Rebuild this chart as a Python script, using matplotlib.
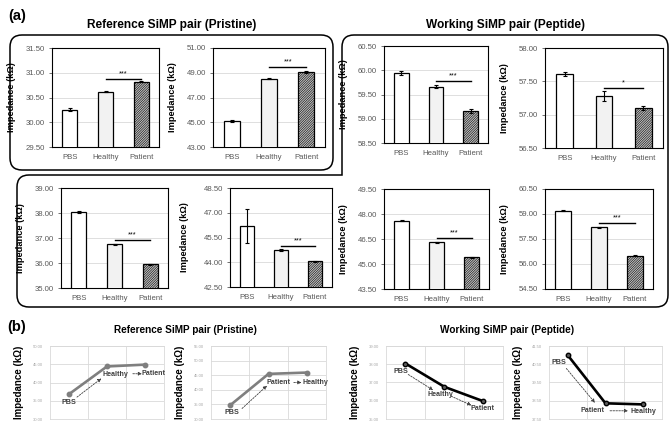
import matplotlib
matplotlib.use('Agg')
import matplotlib.pyplot as plt
from matplotlib.patches import FancyBboxPatch, PathPatch
from matplotlib.path import Path
import numpy as np

plt.rcParams['font.family'] = ['Liberation Sans', 'DejaVu Sans']
plt.rcParams['hatch.linewidth'] = 0.4

W, H = 670, 440

groups = ['PBS', 'Healthy', 'Patient']

# (a) bar charts: mean impedance (kOhm) and error
ref1_mean = [30.25, 30.62, 30.82]
ref1_err = [0.03, 0.01, 0.01]
ref2_mean = [45.10, 48.52, 49.08]
ref2_err = [0.08, 0.03, 0.06]
ref3_mean = [38.03, 36.74, 35.95]
ref3_err = [0.04, 0.03, 0.02]
ref4_mean = [46.20, 44.75, 44.05]
ref4_err = [1.05, 0.05, 0.03]
wrk1_mean = [59.94, 59.66, 59.16]
wrk1_err = [0.04, 0.03, 0.05]
wrk2_mean = [57.61, 57.28, 57.10]
wrk2_err = [0.03, 0.07, 0.03]
wrk3_mean = [47.60, 46.30, 45.40]
wrk3_err = [0.03, 0.04, 0.02]
wrk4_mean = [59.20, 58.20, 56.50]
wrk4_err = [0.04, 0.04, 0.04]

# significance bar between Healthy and Patient
sig_levels = [30.88, 49.45, 36.92, 45.00, 59.78, 57.40, 46.58, 58.48]
sig_marks = ['***', '***', '***', '***', '***', '*', '***', '***']

# (b) line charts
b1_cats = ['PBS', 'Healthy', 'Patient']
b1_vals = [36.8, 44.4, 44.9]
b2_cats = ['PBS', 'Patient', 'Healthy']
b2_vals = [34.7, 45.45, 45.9]
b3_cats = ['PBS', 'Healthy', 'Patient']
b3_vals = [38.04, 36.76, 35.97]
b4_cats = ['PBS', 'Patient', 'Healthy']
b4_vals = [40.99, 38.36, 38.30]

fig = plt.figure(figsize=(6.7, 4.4), dpi=100)
fig.patch.set_facecolor('white')

bg = fig.add_axes([0, 0, 1, 1], zorder=0)
bg.set_xlim(0, W)
bg.set_ylim(H, 0)
bg.axis('off')


def px_axes(l, t, r, b):
    return fig.add_axes([l / W, 1 - b / H, (r - l) / W, (b - t) / H], zorder=2)


# frames
bg.add_patch(FancyBboxPatch((10, 35), 323, 135, boxstyle="round,pad=0,rounding_size=12",
                            facecolor='none', edgecolor='black', linewidth=1.1))
r = 12
verts = [(342 + r, 35), (668 - r, 35), (668, 35), (668, 35 + r), (668, 307 - r), (668, 307),
         (668 - r, 307), (17 + r, 307), (17, 307), (17, 307 - r), (17, 175 + r), (17, 175),
         (17 + r, 175), (342, 175), (342, 35 + r), (342, 35), (342 + r, 35), (342 + r, 35)]
codes = [Path.MOVETO, Path.LINETO, Path.CURVE3, Path.CURVE3, Path.LINETO, Path.CURVE3,
         Path.CURVE3, Path.LINETO, Path.CURVE3, Path.CURVE3, Path.LINETO, Path.CURVE3,
         Path.CURVE3, Path.LINETO, Path.LINETO, Path.CURVE3, Path.CURVE3, Path.CLOSEPOLY]
bg.add_patch(PathPatch(Path(verts, codes), facecolor='none', edgecolor='black', linewidth=1.1))

# titles
bg.text(17, 16, '(a)', ha='center', va='center', fontsize=10.5, fontweight='bold')
bg.text(172, 25, 'Reference SiMP pair (Pristine)', ha='center', va='center', fontsize=8.6, fontweight='bold')
bg.text(505, 25, 'Working SiMP pair (Peptide)', ha='center', va='center', fontsize=8.6, fontweight='bold')
bg.text(17, 327, '(b)', ha='center', va='center', fontsize=10.5, fontweight='bold')
bg.text(185, 330, 'Reference SiMP pair (Pristine)', ha='center', va='center', fontsize=7.2, fontweight='bold')
bg.text(507, 330, 'Working SiMP pair (Peptide)', ha='center', va='center', fontsize=7.2, fontweight='bold')

fills = ['white', '#f2f2f2', '#bfbfbf']
hatches = ['', '', '//////////////']


def bar_panel(box, means, errs, ylim, step, sig_y, sig_text, lab_off=36):
    ax = px_axes(*box)
    x = np.arange(len(groups))
    bars = ax.bar(x, means, width=0.42, color=fills, edgecolor='black', linewidth=0.9,
                  yerr=errs, capsize=1.6,
                  error_kw=dict(elinewidth=0.8, capthick=0.8, ecolor='black'), zorder=3)
    for p, h in zip(bars, hatches):
        p.set_hatch(h)
    ax.plot([1, 2], [sig_y, sig_y], color='black', lw=1.0, zorder=4)
    ax.annotate(sig_text, (1.5, sig_y), xytext=(0, 1), textcoords='offset points',
                ha='center', va='bottom', fontsize=5.2)
    ax.set_xlim(-0.5, 2.5)
    ax.set_ylim(*ylim)
    ax.set_yticks(np.arange(ylim[0], ylim[1] + step / 2, step))
    ax.yaxis.set_major_formatter('{x:.2f}')
    ax.set_xticks(x)
    ax.set_xticklabels(groups)
    ax.yaxis.grid(True, color='#d9d9d9', lw=0.6)
    ax.set_axisbelow(True)
    ax.tick_params(length=0, labelsize=5.6, labelcolor='#595959', pad=5)
    ax.tick_params(axis='y', length=2, width=0.6, color='#595959', pad=3)
    for s in ax.spines.values():
        s.set_linewidth(0.8)
    ax.set_ylabel('Impedance (kΩ)', fontsize=6.7, fontweight='bold')
    ax.yaxis.set_label_coords(-lab_off / (box[2] - box[0]), 0.5)
    return ax


bar_panel((52, 48, 159, 147), ref1_mean, ref1_err, (29.5, 31.5), 0.5, sig_levels[0], sig_marks[0])
bar_panel((213, 48, 325, 147), ref2_mean, ref2_err, (43, 51), 2, sig_levels[1], sig_marks[1])
bar_panel((61, 188, 168, 288), ref3_mean, ref3_err, (35, 39), 1, sig_levels[2], sig_marks[2])
bar_panel((230, 188, 332, 287), ref4_mean, ref4_err, (42.5, 48.5), 1.5, sig_levels[3], sig_marks[3], lab_off=41)
bar_panel((384, 46, 488, 143), wrk1_mean, wrk1_err, (58.5, 60.5), 0.5, sig_levels[4], sig_marks[4])
bar_panel((545, 48, 663, 148), wrk2_mean, wrk2_err, (56.5, 58.0), 0.5, sig_levels[5], sig_marks[5])
bar_panel((384, 189, 489, 289), wrk3_mean, wrk3_err, (43.5, 49.5), 1.5, sig_levels[6], sig_marks[6])
bar_panel((545, 189, 653, 289), wrk4_mean, wrk4_err, (54.5, 60.5), 1.5, sig_levels[7], sig_marks[7])


def line_panel(box, cats, vals, ylim, step, color, mfc, offsets, arrows):
    ax = px_axes(*box)
    x = np.arange(len(cats))
    ax.plot(x, vals, color=color, lw=1.9, marker='o', ms=3.2, mfc=mfc, mec=color, zorder=3)
    for xi, v, c, (dx, dy) in zip(x, vals, cats, offsets):
        ax.annotate(c, (xi, v), xytext=(dx, -dy), textcoords='offset pixels',
                    ha='center', va='center', fontsize=5.1, fontweight='bold', color='#404040')
    for (x0, y0), (x1, y1) in arrows:
        ax.annotate('', xy=(x1, y1), xytext=(x0, y0),
                    arrowprops=dict(arrowstyle='-|>', ls=(0, (2, 1.5)), lw=0.6, color='#404040',
                                    mutation_scale=5, shrinkA=0, shrinkB=0))
    ax.set_xlim(-0.5, 2.5)
    ax.set_ylim(*ylim)
    ax.set_yticks(np.arange(ylim[0], ylim[1] + step / 2, step))
    ax.yaxis.set_major_formatter('{x:.2f}')
    ax.set_xticks([0.5, 1.5])
    ax.set_xticklabels([])
    ax.grid(True, color='#d9d9d9', lw=0.6)
    ax.set_axisbelow(True)
    ax.tick_params(length=0, labelsize=3, colors='#a6a6a6', pad=5)
    for s in ax.spines.values():
        s.set_color('#d9d9d9')
        s.set_linewidth(0.6)
    ax.set_ylabel('Impedance (kΩ)', fontsize=7, fontweight='bold')
    ax.yaxis.set_label_coords(-26 / (box[2] - box[0]), 0.5)
    return ax


line_panel((50, 346, 164, 419), b1_cats, b1_vals, (30, 50), 5, '#7f7f7f', '#7f7f7f',
           [(0, 8), (8, 8), (9, 9)],
           [((0.21, 36.0), (0.85, 41.1)), ((1.68, 42.4), (1.92, 42.4))])
line_panel((211, 346, 326, 419), b2_cats, b2_vals, (30, 55), 5, '#7f7f7f', '#7f7f7f',
           [(2, 7), (10, 9), (9, 10)],
           [((0.31, 33.6), (0.96, 41.4)), ((1.66, 42.5), (1.86, 42.5))])
line_panel((386, 346, 503, 419), b3_cats, b3_vals, (35, 39), 1, 'black', '#595959',
           [(-5, 8), (-4, 8), (-1, 7)],
           [((0.07, 37.44), (0.71, 36.58)), ((1.17, 36.25), (1.69, 35.75))])
line_panel((549, 346, 662, 419), b4_cats, b4_vals, (37.5, 41.5), 1, 'black', '#595959',
           [(-9, 7), (-13, 7), (0, 7)],
           [((-0.04, 40.27), (0.72, 38.39)), ((1.12, 37.95), (1.6, 37.95))])

fig.savefig('out.png', dpi=100, facecolor='white')
